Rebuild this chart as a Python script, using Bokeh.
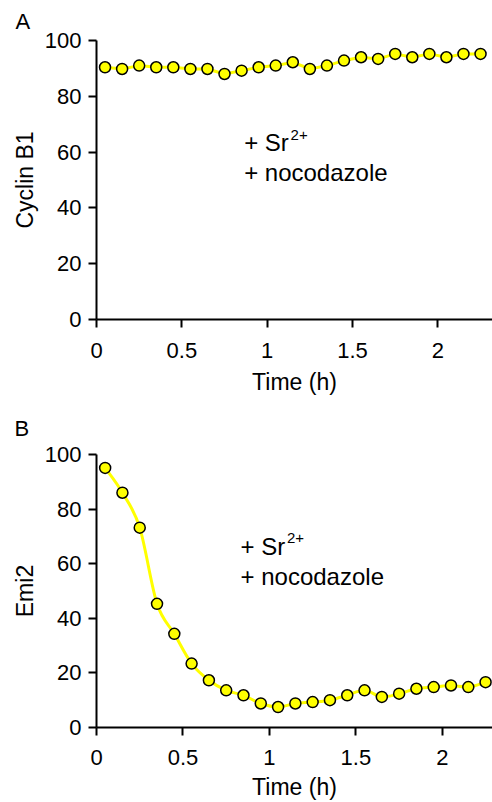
from bokeh.plotting import figure
from bokeh.models import Label, FixedTicker, ColumnDataSource
from bokeh.layouts import column
from bokeh.embed import file_html
from bokeh.resources import INLINE

time_h = [0.05, 0.15, 0.25, 0.35, 0.45, 0.55, 0.65, 0.75, 0.85, 0.95, 1.05, 1.15,
          1.25, 1.35, 1.45, 1.55, 1.65, 1.75, 1.85, 1.95, 2.05, 2.15, 2.25]
cyclin_b1 = [90.4, 89.8, 91.0, 90.4, 90.4, 89.8, 89.8, 88.0, 89.2, 90.4, 91.0, 92.2,
             89.8, 91.0, 92.8, 94.0, 93.4, 95.2, 94.0, 95.2, 94.0, 95.2, 95.2]
emi2 = [95.1, 86.0, 73.2, 45.3, 34.3, 23.4, 17.3, 13.6, 11.8, 8.8, 7.5, 8.8,
        9.3, 10.0, 11.8, 13.6, 11.2, 12.4, 14.2, 14.8, 15.4, 14.8, 16.6]
x_ticks = [0, 0.5, 1, 1.5, 2]
x_tick_labels = {0: "0", 0.5: "0.5", 1: "1", 1.5: "1.5", 2: "2"}
y_ticks = [0, 20, 40, 60, 80, 100]

FONT = "Liberation Sans"
YELLOW = "#ffff00"


def smooth_segments(xs, ys):
    # Catmull-Rom segments through the data points, as cubic Bezier pieces
    n = len(xs)
    d = dict(x0=[], y0=[], x1=[], y1=[], cx0=[], cy0=[], cx1=[], cy1=[])
    for i in range(n - 1):
        xm = xs[i - 1] if i > 0 else xs[i]
        ym = ys[i - 1] if i > 0 else ys[i]
        xp = xs[i + 2] if i + 2 < n else xs[i + 1]
        yp = ys[i + 2] if i + 2 < n else ys[i + 1]
        d["x0"].append(xs[i]); d["y0"].append(ys[i])
        d["x1"].append(xs[i + 1]); d["y1"].append(ys[i + 1])
        d["cx0"].append(xs[i] + (xs[i + 1] - xm) / 6.0)
        d["cy0"].append(ys[i] + (ys[i + 1] - ym) / 6.0)
        d["cx1"].append(xs[i + 1] - (xp - xs[i]) / 6.0)
        d["cy1"].append(ys[i + 1] - (yp - ys[i]) / 6.0)
    return ColumnDataSource(d)


def make_panel(ys, ylabel, letter, height, left, top, bottom, x_end, title_standoff,
               sr_y, noc_y, txt_x, sup_dx, sup_dy, smooth, xl_standoff, xa_standoff):
    p = figure(width=492, height=height, x_range=(0, x_end), y_range=(0, 100),
               output_backend="svg", toolbar_location=None,
               min_border_left=left, min_border_right=0,
               min_border_top=top, min_border_bottom=bottom)
    p.outline_line_color = None
    p.xgrid.visible = False
    p.ygrid.visible = False
    p.title.text = letter
    p.title.align = "left"
    p.title.offset = 14 - left
    p.title.standoff = title_standoff
    p.title.text_font = FONT
    p.title.text_font_size = "22px"
    p.title.text_font_style = "normal"
    p.title.text_color = "black"
    for ax in (p.xaxis[0], p.yaxis[0]):
        ax.axis_line_width = 2
        ax.major_tick_line_width = 2
        ax.major_tick_out = 8
        ax.major_tick_in = 0
        ax.minor_tick_line_color = None
        ax.major_label_text_font = FONT
        ax.major_label_text_font_size = "22px"
        ax.major_label_text_color = "black"
        ax.axis_label_text_font = FONT
        ax.axis_label_text_font_size = "23px"
        ax.axis_label_text_font_style = "normal"
        ax.axis_label_text_color = "black"
    p.xaxis.ticker = FixedTicker(ticks=x_ticks)
    p.xaxis.major_label_overrides = x_tick_labels
    p.yaxis.ticker = FixedTicker(ticks=y_ticks)
    p.xaxis.axis_label = "Time (h)"
    p.yaxis.axis_label = ylabel
    p.xaxis.major_label_standoff = xl_standoff
    p.xaxis.axis_label_standoff = xa_standoff
    p.yaxis.major_label_standoff = 7
    p.yaxis.axis_label_standoff = 4

    if smooth:
        src = smooth_segments(time_h, ys)
        p.bezier(x0="x0", y0="y0", x1="x1", y1="y1", cx0="cx0", cy0="cy0",
                 cx1="cx1", cy1="cy1", source=src, line_color=YELLOW, line_width=3)
    else:
        p.line(time_h, ys, line_color=YELLOW, line_width=3)
    p.scatter(time_h, ys, size=11, fill_color=YELLOW, line_color="black", line_width=1.5)

    lab = dict(text_font=FONT, text_color="black", text_baseline="alphabetic")
    p.add_layout(Label(x=txt_x, y=sr_y, text="+ Sr", text_font_size="24px", **lab))
    p.add_layout(Label(x=txt_x + sup_dx, y=sr_y + sup_dy, text="2+", text_font_size="15px", **lab))
    p.add_layout(Label(x=txt_x, y=noc_y, text="+ nocodazole", text_font_size="24px", **lab))
    return p


p1 = make_panel(cyclin_b1, "Cyclin B1", "A", 400, 95, 40, 81, 2.32, 13,
                63.5, 52.8, 0.865, 0.272, 2.5, False, 15, 8)
p2 = make_panel(emi2, "Emi2", "B", 402, 96, 53, 75, 2.29, 27,
                66.4, 55.4, 0.833, 0.268, 2.9, True, 14, 6)

layout = column(p1, p2, spacing=0)
open("out.html", "w").write(file_html(layout, INLINE))
